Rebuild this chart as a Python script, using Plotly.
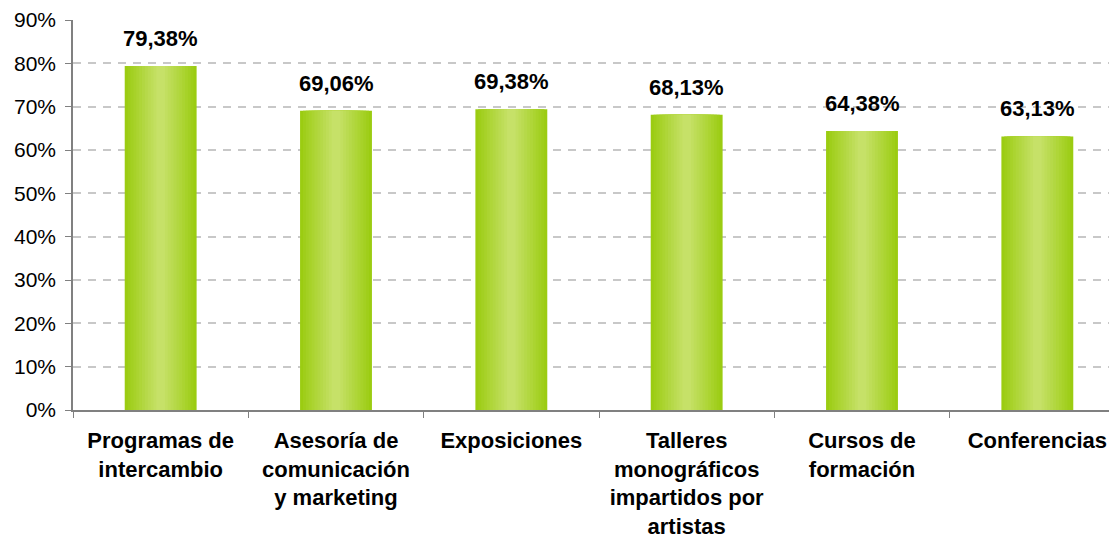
import plotly.graph_objects as go

categories = [
    "Programas de<br>intercambio",
    "Asesoría de<br>comunicación<br>y marketing",
    "Exposiciones",
    "Talleres<br>monográficos<br>impartidos por<br>artistas",
    "Cursos de<br>formación",
    "Conferencias",
]
values = [79.38, 69.06, 69.38, 68.13, 64.38, 63.13]
labels = [f"{v:.2f}".replace(".", ",") + "%" for v in values]

edge = (155, 204, 18)
center = (198, 225, 104)
n_layers = 12
full_width = 0.41
FONT = "Liberation Sans, Arial"

fig = go.Figure()
for i in range(n_layers):
    t = i / (n_layers - 1)
    col = tuple(round(edge[k] + (center[k] - edge[k]) * t) for k in range(3))
    w = full_width * (1 - 0.88 * t)
    fig.add_trace(go.Bar(
        x=categories, y=values, width=w,
        marker=dict(color="rgb(%d,%d,%d)" % col, line=dict(width=0)),
        hoverinfo="skip" if i else None,
        showlegend=False,
    ))

for c, v, lab in zip(categories, values, labels):
    fig.add_annotation(
        x=c, y=v, text=lab, showarrow=False, yanchor="bottom", yshift=13,
        font=dict(family=FONT, size=22, color="black", weight="bold"),
    )

fig.update_layout(
    barmode="overlay",
    width=1117, height=542,
    margin=dict(l=65, r=0, t=12, b=140),
    plot_bgcolor="white", paper_bgcolor="white",
    font=dict(family=FONT, color="black"),
)
fig.update_xaxes(
    automargin=False,
    showline=True, linecolor="#808080", linewidth=1.5,
    ticks="outside", tickson="boundaries", ticklen=6, tickcolor="#808080",
    tickfont=dict(family=FONT, size=22, color="black", weight="bold"),
    ticklabelstandoff=10,
    showgrid=False,
)
fig.update_yaxes(
    automargin=False,
    range=[0, 90], dtick=10, ticksuffix="%",
    showline=True, linecolor="#808080", linewidth=1.5,
    ticks="outside", ticklen=6, tickcolor="#808080",
    tickfont=dict(family=FONT, size=21, color="black"),
    ticklabelstandoff=5,
    showgrid=True, gridcolor="#C8C8C8", griddash="8px,7px", gridwidth=1.5,
    zeroline=False,
)
fig.write_html("out.html")
